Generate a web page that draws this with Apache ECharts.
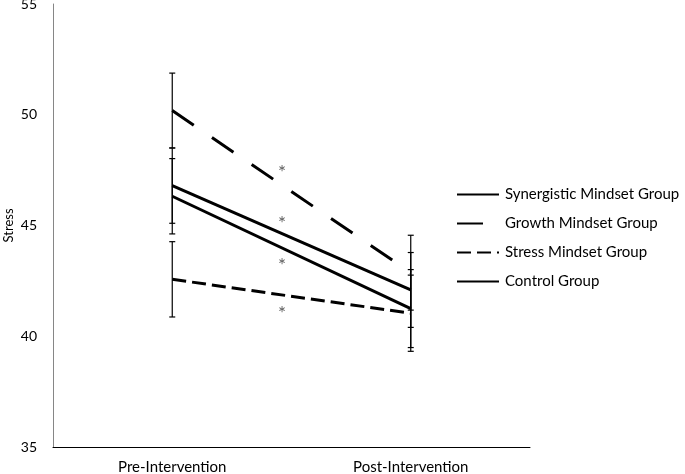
<!DOCTYPE html>
<html>
<head>
<meta charset="utf-8">
<script src="https://cdn.jsdelivr.net/npm/echarts@6/dist/echarts.min.js"></script>
<style>
html, body { margin: 0; padding: 0; background: #fff; }
#chart { width: 685px; height: 474px; }
</style>
</head>
<body>
<div id="chart"></div>
<script>
var phases = ['Pre-Intervention', 'Post-Intervention'];
var yTicks = [35, 40, 45, 50, 55];

var synergistic = [46.8, 42.09];
var growth = [50.19, 42.87];
var stressMindset = [42.57, 41.04];
var control = [46.32, 41.25];

// half-width of each error bar (pre, post)
var synergisticErr = [1.7, 1.69];
var growthErr = [1.69, 1.69];
var stressErr = [1.7, 1.72];
var controlErr = [1.7, 1.76];

// significance stars, placed between the two phases (x as category index)
var starX = [0.46, 0.46, 0.46, 0.46];
var starY = [47.6, 45.3, 43.4, 41.25];

var font = 'Lato, "Open Sans", sans-serif';

function errData(vals, errs) {
	var out = [];
	for (var i = 0; i < vals.length; i++) {
		out.push([i, vals[i] - errs[i], vals[i] + errs[i]]);
	}
	return out;
}

function errSeries(vals, errs) {
	return {
		type: 'custom',
		silent: true,
		z: 1,
		data: errData(vals, errs),
		renderItem: function(params, api) {
			var lo = api.coord([api.value(0), api.value(1)]);
			var hi = api.coord([api.value(0), api.value(2)]);
			var w = 3;
			var st = { stroke: '#000', lineWidth: 1.2 };
			return {
				type: 'group',
				children: [
					{ type: 'line', shape: { x1: lo[0], y1: lo[1], x2: hi[0], y2: hi[1] }, style: st },
					{ type: 'line', shape: { x1: lo[0] - w, y1: lo[1], x2: lo[0] + w, y2: lo[1] }, style: st },
					{ type: 'line', shape: { x1: hi[0] - w, y1: hi[1], x2: hi[0] + w, y2: hi[1] }, style: st }
				]
			};
		}
	};
}

function lineSeries(name, vals, dash) {
	return {
		name: name,
		type: 'line',
		data: vals,
		symbol: 'none',
		z: 3,
		lineStyle: { color: '#000', width: 3, type: dash, cap: 'butt' },
		itemStyle: { color: '#000' }
	};
}

var stars = [];
for (var i = 0; i < starX.length; i++) stars.push([starX[i], starY[i]]);

var chart = echarts.init(document.getElementById('chart'));
var option = {
	animation: false,
	grid: { left: 53, right: 155, top: 4, bottom: 27, outerBoundsMode: 'none', containLabel: false },
	legend: {
		orient: 'vertical',
		left: 456,
		top: 187,
		padding: 0,
		itemWidth: 42,
		itemHeight: 12,
		itemGap: 14,
		itemStyle: { opacity: 0 },
		data: ['Synergistic Mindset Group', 'Growth Mindset Group', 'Stress Mindset Group', 'Control Group'],
		textStyle: { fontFamily: font, fontSize: 15, color: '#000', padding: [0, 0, 0, 1] }
	},
	xAxis: [
		{
			type: 'category',
			data: phases,
			axisLine: { onZero: false, lineStyle: { color: '#000', width: 1 } },
			axisTick: { show: false },
			axisLabel: { fontFamily: font, fontSize: 15, color: '#000', margin: 13 }
		},
		{
			type: 'value',
			min: -0.5,
			max: 1.5,
			show: false
		}
	],
	yAxis: {
		type: 'value',
		min: yTicks[0],
		max: yTicks[yTicks.length - 1],
		interval: 5,
		name: 'Stress',
		nameLocation: 'middle',
		nameGap: 38,
		nameMoveOverlap: false,
		nameTextStyle: { fontFamily: font, fontSize: 13, color: '#000' },
		axisLine: { show: true, onZero: false, lineStyle: { color: '#868686', width: 1 } },
		axisTick: { show: false },
		splitLine: { show: false },
		axisLabel: { fontFamily: font, fontSize: 14, color: '#000', margin: 16 }
	},
	series: [
		errSeries(synergistic, synergisticErr),
		errSeries(growth, growthErr),
		errSeries(stressMindset, stressErr),
		errSeries(control, controlErr),
		lineSeries('Synergistic Mindset Group', synergistic, 'solid'),
		lineSeries('Growth Mindset Group', growth, [26, 22]),
		lineSeries('Stress Mindset Group', stressMindset, [14, 6]),
		lineSeries('Control Group', control, 'solid'),
		{
			type: 'scatter',
			xAxisIndex: 1,
			data: stars,
			symbolSize: 1,
			itemStyle: { color: 'rgba(0,0,0,0)' },
			silent: true,
			label: {
				show: true,
				position: 'inside',
				formatter: '*',
				fontFamily: font,
				fontSize: 19,
				color: '#333',
				offset: [0, 5]
			}
		}
	]
};
chart.setOption(option);
</script>
</body>
</html>
